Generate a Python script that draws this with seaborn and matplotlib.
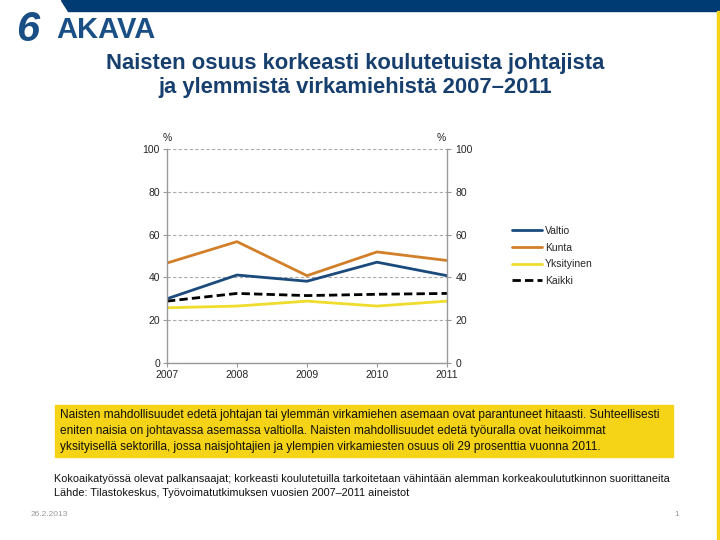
import pandas as pd
import matplotlib.pyplot as plt
import seaborn as sns
from matplotlib.patches import Rectangle, Polygon

# Data
years = [2007, 2008, 2009, 2010, 2011]
valtio = [30.0, 41.1, 38.2, 47.1, 40.8]
kunta = [46.7, 56.7, 40.8, 51.9, 47.9]
yksityinen = [25.8, 26.6, 28.9, 26.6, 28.9]
kaikki = [28.9, 32.5, 31.5, 32.1, 32.5]

series_names = ["Valtio", "Kunta", "Yksityinen", "Kaikki"]
colors = ["#1b4a7c", "#d27f2a", "#f0dc2c", "#000000"]
y_ticks = [0, 20, 40, 60, 80, 100]

df = pd.DataFrame({"Vuosi": years, "Valtio": valtio, "Kunta": kunta,
                   "Yksityinen": yksityinen, "Kaikki": kaikki})
long = df.melt(id_vars="Vuosi", var_name="Sektori", value_name="Osuus")

sns.set_style("white")
plt.rcParams["font.family"] = ["Liberation Sans", "DejaVu Sans"]

fig = plt.figure(figsize=(7.2, 5.4), dpi=100)

# Slide decorations
fig.patches.append(Polygon([[0.085, 1.0], [1.0, 1.0], [1.0, 0.979], [0.095, 0.979]],
                           closed=True, transform=fig.transFigure,
                           color="#003b73", zorder=0))
fig.patches.append(Rectangle((0.996, 0.0), 0.004, 0.979, transform=fig.transFigure,
                             color="#f5d316", zorder=0))
fig.text(0.022, 0.945, "6", fontsize=30, fontweight="bold", color="#1a4f86",
         ha="left", va="center", fontstyle="italic")
fig.text(0.078, 0.945, "AKAVA", fontsize=21, fontweight="bold", color="#1a4f86",
         ha="left", va="center")

fig.text(0.494, 0.86, "Naisten osuus korkeasti koulutetuista johtajista\nja ylemmistä virkamiehistä 2007–2011",
         fontsize=15.8, fontweight="bold", color="#173f6e", ha="center", va="center",
         linespacing=1.2)

ax = fig.add_axes([0.2319, 0.3278, 0.3889, 0.3963])
sns.lineplot(data=long, x="Vuosi", y="Osuus", hue="Sektori", style="Sektori",
             hue_order=series_names, style_order=series_names,
             palette=colors, dashes={"Valtio": "", "Kunta": "", "Yksityinen": "",
                                     "Kaikki": (3, 1.5)},
             linewidth=2, ax=ax)

ax.set_xlim(2007, 2011)
ax.set_ylim(0, 100)
ax.set_xticks(years)
ax.set_yticks(y_ticks)
ax.set_xlabel("")
ax.set_ylabel("")
ax.yaxis.grid(True, linestyle=(0, (3, 2)), color="#aaaaaa", linewidth=0.8)
ax.xaxis.grid(False)
for side in ["left", "right", "bottom"]:
    ax.spines[side].set_color("#999999")
    ax.spines[side].set_linewidth(1)
ax.spines["top"].set_visible(False)
ax.tick_params(axis="both", labelsize=7.5, length=3, color="#999999", direction="out",
               bottom=True, left=True, pad=2)

ax2 = ax.twinx()
ax2.set_ylim(0, 100)
ax2.set_yticks(y_ticks)
ax2.tick_params(axis="y", labelsize=7.5, length=3, color="#999999", direction="out",
                right=True, pad=3)
for s in ax2.spines.values():
    s.set_visible(False)

ax.text(0.0, 1.03, "%", transform=ax.transAxes, fontsize=7.5, ha="center", va="bottom")
ax.text(0.98, 1.03, "%", transform=ax.transAxes, fontsize=7.5, ha="center", va="bottom")

handles, labels = ax.get_legend_handles_labels()
leg = ax.legend(handles, labels, loc="upper left", bbox_to_anchor=(1.2, 0.685),
                frameon=False, fontsize=7.5, handlelength=2.8, labelspacing=0.65,
                handletextpad=0.3)

# Yellow text box
fig.patches.append(Rectangle((0.077, 0.154), 0.858, 0.096, transform=fig.transFigure,
                             color="#f5d316", zorder=0))
fig.text(0.083, 0.202,
         "Naisten mahdollisuudet edetä johtajan tai ylemmän virkamiehen asemaan ovat parantuneet hitaasti. Suhteellisesti\n"
         "eniten naisia on johtavassa asemassa valtiolla. Naisten mahdollisuudet edetä työuralla ovat heikoimmat\n"
         "yksityisellä sektorilla, jossa naisjohtajien ja ylempien virkamiesten osuus oli 29 prosenttia vuonna 2011.",
         fontsize=8.6, ha="left", va="center", linespacing=1.4, color="#111111")

fig.text(0.075, 0.1,
         "Kokoaikatyössä olevat palkansaajat; korkeasti koulutetuilla tarkoitetaan vähintään alemman korkeakoulututkinnon suorittaneita\n"
         "Lähde: Tilastokeskus, Työvoimatutkimuksen vuosien 2007–2011 aineistot",
         fontsize=7.85, ha="left", va="center", linespacing=1.4, color="#111111")

fig.text(0.042, 0.047, "26.2.2013", fontsize=6, color="#999999", ha="left", va="center")
fig.text(0.94, 0.047, "1", fontsize=6, color="#999999", ha="center", va="center")

fig.savefig("out.png", dpi=100)
